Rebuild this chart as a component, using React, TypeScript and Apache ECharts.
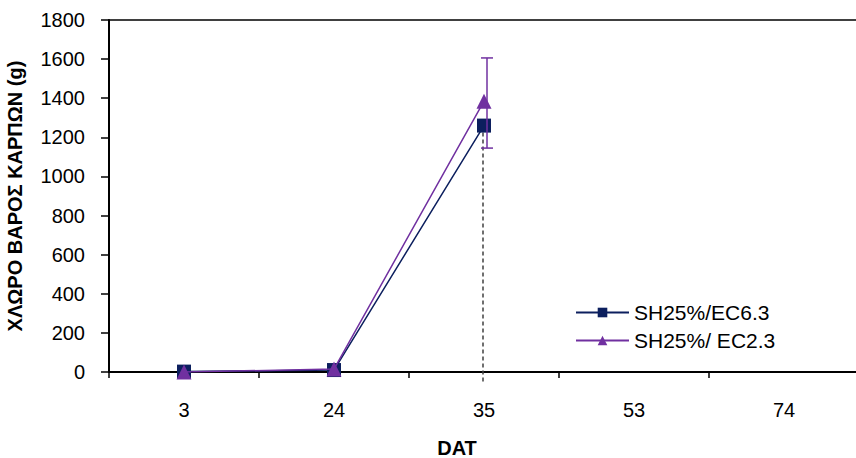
import React, { useEffect, useRef } from "react";
import * as echarts from "echarts";

const categories = ["3", "24", "35", "53", "74"];
const seriesNames = ["SH25%/EC6.3", "SH25%/ EC2.3"];
const ec63Values = [2, 10, 1260, null, null];
const ec23Values = [0, 15, 1385, null, null];
// error bar for EC2.3 at DAT 35: [categoryIndex, low, high]
const ec23Errors = [[2, 1145, 1606]];
// drop line for EC6.3 at DAT 35: [categoryIndex, value]
const ec63Drop = [[2, 1260]];
const yTicks = [0, 200, 400, 600, 800, 1000, 1200, 1400, 1600, 1800];
const xTitle = "DAT";
const yTitle = "ΧΛΩΡΟ ΒΑΡΟΣ ΚΑΡΠΩΝ (g)";

const FONT = "'Liberation Sans', Arial, sans-serif";
const NAVY = "#0C1F5E";
const PURPLE = "#7030A0";

export default function App() {
  const ref = useRef<HTMLDivElement>(null);
  useEffect(() => {
    if (!ref.current) return;
    const chart = echarts.init(ref.current, null, { renderer: "svg" });
    chart.setOption({
      animation: false,
      textStyle: { fontFamily: FONT },
      grid: { left: 109, top: 20, width: 750, height: 352, containLabel: false, outerBoundsMode: "none" },
      legend: {
        orient: "vertical",
        left: 570,
        top: 297,
        itemWidth: 53,
        itemHeight: 12,
        itemGap: 7,
        data: seriesNames,
        textStyle: { fontSize: 21, color: "#000", fontFamily: FONT },
      },
      graphic: [
        {
          type: "text",
          x: 457,
          y: 448,
          style: {
            text: xTitle,
            fontSize: 20,
            fontWeight: "bold",
            fill: "#000",
            fontFamily: FONT,
            align: "center",
            verticalAlign: "middle",
          },
        },
      ],
      xAxis: [
        {
          type: "category",
          data: categories,
          boundaryGap: true,
          axisLine: { lineStyle: { color: "#000", width: 2 } },
          axisTick: { show: true, alignWithLabel: false, length: 6, lineStyle: { color: "#000", width: 1.5 } },
          axisLabel: { fontSize: 20, color: "#000", margin: 28, fontFamily: FONT },
          splitLine: { show: false },
        },
        {
          type: "category",
          data: categories,
          position: "top",
          axisLine: { show: true, lineStyle: { color: "#000", width: 1.5 } },
          axisTick: { show: false },
          axisLabel: { show: false },
          splitLine: { show: false },
        },
      ],
      yAxis: {
        type: "value",
        min: 0,
        max: 1800,
        interval: 200,
        name: yTitle,
        nameLocation: "middle",
        nameGap: 84,
        nameRotate: 90,
        nameTextStyle: { fontSize: 20, fontWeight: "bold", color: "#000", fontFamily: FONT },
        axisLine: { show: true, lineStyle: { color: "#000", width: 2 } },
        axisTick: { show: true, length: 8, lineStyle: { color: "#000", width: 1.5 } },
        axisLabel: {
          fontSize: 20,
          color: "#000",
          margin: 24,
          fontFamily: FONT,
          formatter: (v: number) => (yTicks.includes(v) ? String(v) : ""),
        },
        splitLine: { show: false },
      },
      series: [
        {
          type: "custom",
          name: "drop",
          silent: true,
          z: 1,
          data: ec63Drop,
          renderItem: (params: any, api: any) => {
            const top = api.coord([api.value(0), api.value(1)]);
            const base = api.coord([api.value(0), 0]);
            return {
              type: "line",
              shape: { x1: top[0] - 1, y1: top[1], x2: top[0] - 1, y2: base[1] + 11 },
              style: { stroke: "#404040", lineWidth: 1.5, lineDash: [4, 3] },
            };
          },
        },
        {
          name: seriesNames[0],
          type: "line",
          data: ec63Values,
          z: 3,
          symbol: "rect",
          symbolSize: 14,
          lineStyle: { color: NAVY, width: 1.5 },
          itemStyle: { color: NAVY },
        },
        {
          name: seriesNames[1],
          type: "line",
          data: ec23Values,
          z: 4,
          symbol: "triangle",
          symbolSize: 15,
          lineStyle: { color: PURPLE, width: 1.5 },
          itemStyle: { color: PURPLE },
        },
        {
          type: "custom",
          name: "err",
          silent: true,
          z: 5,
          data: ec23Errors,
          renderItem: (params: any, api: any) => {
            const lo = api.coord([api.value(0), api.value(1)]);
            const hi = api.coord([api.value(0), api.value(2)]);
            const x = lo[0] + 3;
            const w = 6;
            const style = { stroke: PURPLE, lineWidth: 1.5 };
            return {
              type: "group",
              children: [
                { type: "line", shape: { x1: x, y1: lo[1], x2: x, y2: hi[1] }, style },
                { type: "line", shape: { x1: x - w, y1: lo[1], x2: x + w, y2: lo[1] }, style },
                { type: "line", shape: { x1: x - w, y1: hi[1], x2: x + w, y2: hi[1] }, style },
              ],
            };
          },
        },
      ],
    });
    return () => chart.dispose();
  }, []);
  return <div ref={ref} style={{ width: 856, height: 458, position: "absolute", left: 0, top: 0, background: "#fff" }} />;
}
